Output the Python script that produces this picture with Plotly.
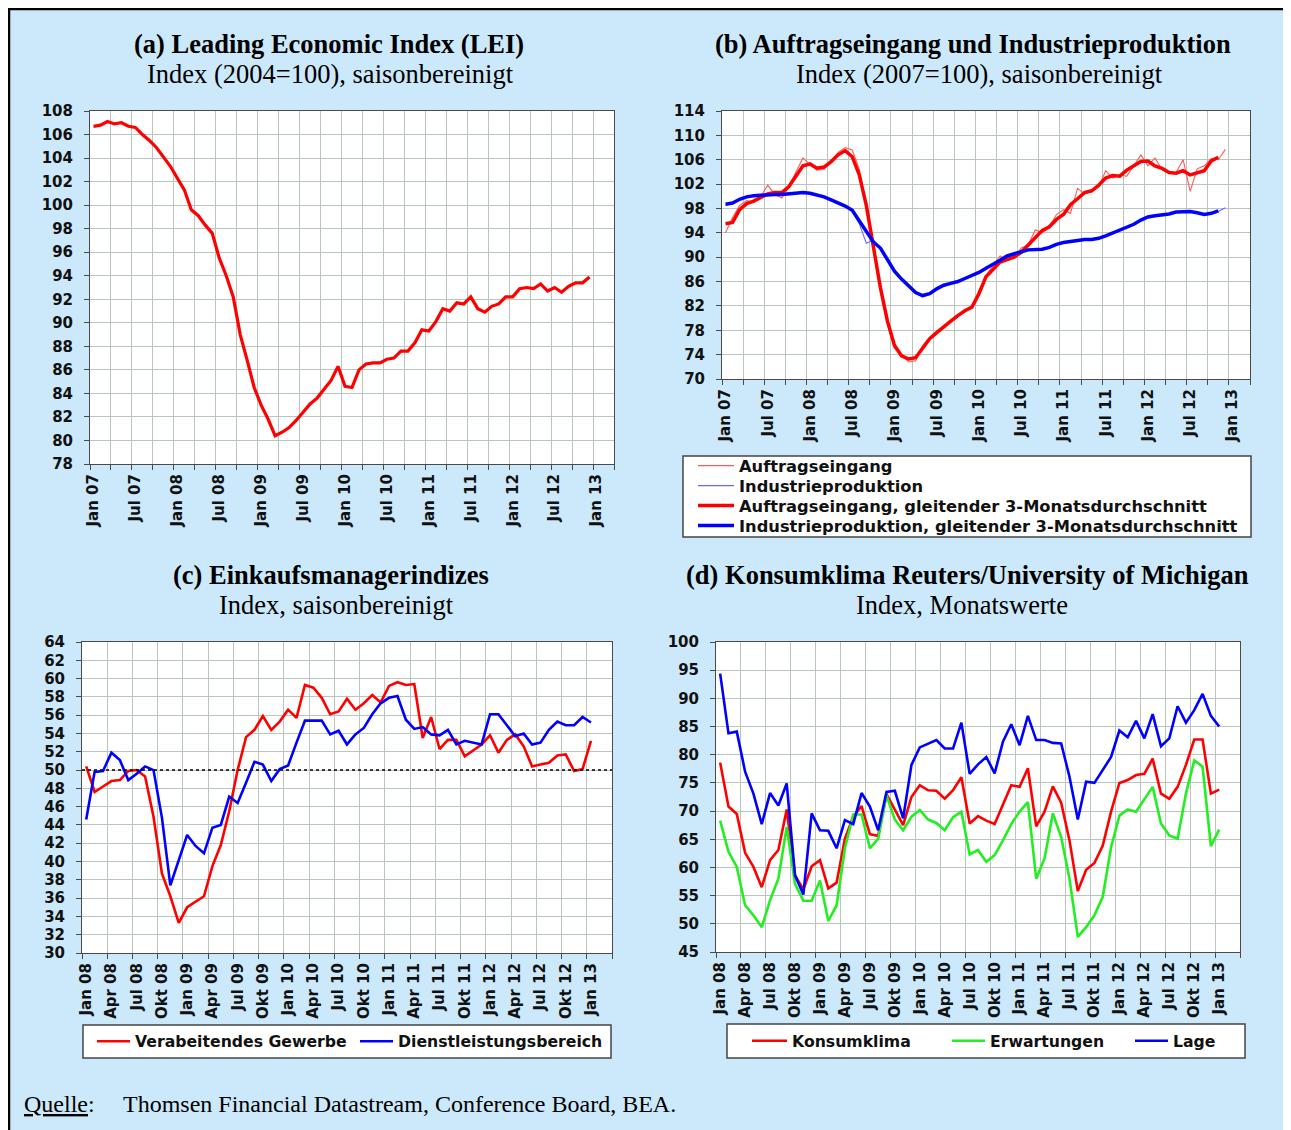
import plotly.graph_objects as go

W, H = 1291, 1130
OFF = 8          # the page body offsets the figure by 8 px
BG = "#cce9fb"
GRID = "#b9c5bd"
AX = "#4a4a4a"
SANS = "DejaVu Sans"
SERIF = "Liberation Serif"

# ---------------- data ----------------
# (a) LEI, monthly Jan 07 .. Dec 12
lei = [106.7, 106.8, 107.1, 106.9, 107.0, 106.7, 106.6, 106.0, 105.5, 104.9, 104.1, 103.3,
       102.3, 101.3, 99.6, 99.1, 98.3, 97.6, 95.5, 94.0, 92.2, 89.0, 86.8, 84.5,
       83.0, 81.8, 80.4, 80.7, 81.1, 81.7, 82.4, 83.1, 83.6, 84.3, 85.1, 86.3,
       84.6, 84.5, 86.0, 86.5, 86.6, 86.6, 86.9, 87.0, 87.6, 87.6, 88.3, 89.4,
       89.3, 90.1, 91.2, 91.0, 91.7, 91.6, 92.2, 91.2, 90.9, 91.4, 91.6, 92.2,
       92.2, 92.9, 93.0, 92.9, 93.3, 92.7, 93.0, 92.6, 93.1, 93.4, 93.4, 93.9]

# (b) Auftragseingang / Industrieproduktion, monthly Jan 07 .. Dec 12
orders_raw = [94.0, 96.5, 98.5, 99.3, 99.0, 100.0, 101.8, 100.3, 99.7, 101.5, 104.0, 106.3,
              105.2, 104.3, 104.4, 105.8, 107.2, 108.0, 107.6, 104.5, 98.0, 92.0, 85.0, 79.0,
              75.0, 74.0, 72.8, 73.0, 75.5, 76.8, 77.8, 78.7, 79.6, 80.5, 81.0, 82.0,
              84.5, 87.0, 88.6, 90.2, 89.5, 90.0, 91.5, 92.0, 94.5, 94.0, 95.0, 97.0,
              97.8, 97.2, 101.3, 100.4, 100.8, 101.5, 104.2, 103.0, 103.5, 103.3, 105.0, 106.8,
              105.0, 106.3, 104.4, 103.8, 103.9, 106.0, 100.8, 104.5, 105.0, 106.2, 106.0, 107.7]
orders_ma = [95.5, 95.7, 97.8, 98.8, 99.2, 99.8, 100.4, 100.6, 100.6, 101.6, 103.3, 105.0,
             105.3, 104.6, 104.8, 105.7, 106.8, 107.5, 106.5, 103.5, 98.5, 92.0, 85.0, 79.5,
             75.5, 73.8, 73.3, 73.5, 75.0, 76.6, 77.6, 78.6, 79.5, 80.4, 81.2, 81.8,
             84.0, 86.8, 88.0, 89.2, 89.6, 90.0, 90.8, 92.0, 93.4, 94.4, 95.0, 96.2,
             97.0, 98.6, 99.6, 100.6, 100.9, 101.8, 103.0, 103.4, 103.3, 104.3, 105.0, 105.7,
             105.8, 105.0, 104.6, 103.9, 103.8, 104.2, 103.5, 103.9, 104.2, 105.8, 106.4]
ip_raw = [98.5, 99.0, 99.4, 100.0, 100.0, 100.3, 100.2, 100.4, 100.2, 100.5, 100.4, 100.7,
          100.5, 100.2, 99.8, 99.4, 98.9, 98.5, 97.6, 95.5, 92.3, 92.8, 91.4, 89.4,
          87.6, 86.4, 85.2, 84.1, 83.5, 84.0, 84.9, 85.3, 85.8, 86.0, 86.4, 87.1,
          87.5, 88.3, 88.7, 89.6, 90.2, 90.6, 91.0, 91.1, 91.3, 91.4, 91.6, 92.0,
          92.5, 92.5, 92.9, 92.8, 93.0, 93.1, 93.6, 94.0, 94.4, 95.0, 95.4, 96.2,
          96.5, 96.9, 96.8, 97.2, 97.3, 97.6, 97.4, 97.3, 96.9, 97.1, 97.5, 98.1]
ip_ma = [98.7, 98.9, 99.5, 99.9, 100.1, 100.2, 100.2, 100.3, 100.3, 100.4, 100.5, 100.6,
         100.5, 100.2, 99.9, 99.4, 98.9, 98.4, 97.7, 96.0, 94.2, 92.5, 91.5, 89.6,
         87.7, 86.4, 85.3, 84.2, 83.7, 84.0, 84.8, 85.4, 85.7, 86.0, 86.5, 87.0,
         87.5, 88.2, 88.8, 89.5, 90.2, 90.6, 90.9, 91.2, 91.3, 91.3, 91.6, 92.1,
         92.4, 92.6, 92.8, 92.9, 92.9, 93.1, 93.5, 94.0, 94.5, 94.9, 95.4, 96.1,
         96.6, 96.8, 96.9, 97.1, 97.4, 97.5, 97.5, 97.3, 97.0, 97.2, 97.6]

# (c) Einkaufsmanagerindizes, monthly Jan 08 .. Jan 13
pmi_manu = [50.4, 47.6, 48.2, 48.8, 48.9, 49.9, 50.0, 49.3, 44.9, 38.7, 36.2, 33.3,
            35.0, 35.6, 36.2, 39.5, 41.8, 45.5, 50.0, 53.6, 54.4, 55.9, 54.4, 55.3,
            56.6, 55.7, 59.3, 59.0, 57.9, 56.1, 56.4, 57.8, 56.6, 57.3, 58.2, 57.4,
            59.2, 59.6, 59.3, 59.4, 53.5, 55.8, 52.3, 53.3, 53.3, 51.5, 52.2, 52.8,
            53.8, 51.9, 53.3, 53.9, 52.6, 50.4, 50.6, 50.8, 51.6, 51.7, 49.9, 50.1, 53.2]
pmi_serv = [44.6, 49.8, 49.9, 51.9, 51.1, 48.9, 49.6, 50.4, 50.0, 44.8, 37.4, 40.2,
            42.9, 41.7, 40.9, 43.7, 44.0, 47.1, 46.4, 48.6, 50.9, 50.6, 48.8, 50.1,
            50.5, 53.0, 55.4, 55.4, 55.4, 53.9, 54.3, 52.8, 53.9, 54.6, 56.1, 57.3,
            57.9, 58.1, 55.5, 54.5, 54.7, 53.9, 53.8, 54.4, 52.8, 53.2, 53.0, 52.8,
            56.1, 56.1, 54.9, 53.7, 54.0, 52.8, 53.0, 54.4, 55.3, 54.9, 54.9, 55.8, 55.2]
pmi_threshold = 50

# (d) Konsumklima Reuters/University of Michigan, monthly Jan 08 .. Jan 13
sent = [78.6, 70.8, 69.5, 62.6, 60.1, 56.5, 61.3, 63.1, 70.3, 58.6, 56.1, 60.2,
        61.3, 56.3, 57.3, 65.1, 69.0, 70.9, 65.9, 65.6, 73.0, 70.2, 67.5, 72.5,
        74.6, 73.7, 73.6, 72.2, 73.7, 76.0, 67.8, 69.1, 68.3, 67.7, 71.3, 74.6,
        74.3, 77.6, 67.3, 69.9, 74.4, 71.5, 64.8, 55.8, 59.6, 60.8, 63.9, 69.9,
        75.0, 75.5, 76.4, 76.6, 79.3, 73.1, 72.2, 74.3, 78.2, 82.7, 82.7, 73.1, 73.8]
expect = [68.3, 62.8, 60.1, 53.3, 51.5, 49.4, 54.2, 58.0, 67.2, 57.1, 54.1, 54.1,
          57.7, 50.5, 53.3, 63.4, 69.4, 69.4, 63.4, 65.1, 72.8, 68.5, 66.6, 69.0,
          70.2, 68.5, 67.9, 66.6, 68.9, 69.9, 62.3, 63.1, 61.0, 62.2, 64.8, 67.7,
          69.9, 71.6, 58.0, 61.6, 69.6, 65.4, 58.0, 47.7, 49.4, 51.5, 54.8, 63.6,
          69.2, 70.3, 69.9, 72.2, 74.3, 67.8, 65.7, 65.1, 73.1, 79.0, 77.9, 63.8, 66.7]
current = [94.4, 83.8, 84.1, 77.0, 73.1, 67.7, 73.2, 71.0, 74.9, 58.6, 55.2, 69.6,
           66.6, 66.5, 63.4, 68.4, 67.7, 73.2, 70.8, 66.6, 73.4, 73.6, 68.7, 78.2,
           81.3, 82.0, 82.6, 81.1, 81.1, 85.7, 76.6, 78.3, 79.6, 76.7, 82.3, 85.4,
           81.7, 86.9, 82.6, 82.6, 82.1, 82.0, 76.1, 68.5, 75.2, 75.0, 77.3, 79.6,
           84.3, 83.1, 86.0, 82.9, 87.2, 81.5, 82.9, 88.6, 85.7, 87.9, 90.8, 86.9, 85.0]

# tick labels
top_ticktext = ["Jan 07", "Jul 07", "Jan 08", "Jul 08", "Jan 09", "Jul 09", "Jan 10",
                "Jul 10", "Jan 11", "Jul 11", "Jan 12", "Jul 12", "Jan 13"]
top_tickvals = [0, 6, 12, 18, 24, 30, 36, 42, 48, 54, 60, 66, 72]
top_ncat = 75   # Jan 07 .. Mar 13
bot_ticktext = ["Jan 08", "Apr 08", "Jul 08", "Okt 08", "Jan 09", "Apr 09", "Jul 09", "Okt 09",
                "Jan 10", "Apr 10", "Jul 10", "Okt 10", "Jan 11", "Apr 11", "Jul 11", "Okt 11",
                "Jan 12", "Apr 12", "Jul 12", "Okt 12", "Jan 13"]
bot_tickvals = [0, 3, 6, 9, 12, 15, 18, 21, 24, 27, 30, 33, 36, 39, 42, 45, 48, 51, 54, 57, 60]
bot_ncat = 63   # Jan 08 .. Mar 13


def fx(px):
    return (px - OFF) / W


def fy(py):
    return 1 - (py - OFF) / H


fig = go.Figure()


def idx(vals):
    return list(range(len(vals)))


RED = "#ff0000"
BLUE = "#0000ff"
GREEN = "#22ee22"
RED_THIN = "#ff5a5a"
BLUE_THIN = "#6a6aff"

# (a)
fig.add_trace(go.Scatter(x=idx(lei), y=lei, mode="lines", line=dict(color=RED, width=3.2),
                         xaxis="x", yaxis="y", showlegend=False, hoverinfo="skip"))
# (b)  -- one single-entry legend per series so the rows can sit 20 px apart
fig.add_trace(go.Scatter(x=idx(orders_raw), y=orders_raw, mode="lines", name="Auftragseingang",
                         line=dict(color=RED_THIN, width=1.1), xaxis="x2", yaxis="y2",
                         legend="legend"))
fig.add_trace(go.Scatter(x=idx(ip_raw), y=ip_raw, mode="lines", name="Industrieproduktion",
                         line=dict(color=BLUE_THIN, width=1.1), xaxis="x2", yaxis="y2",
                         legend="legend4"))
fig.add_trace(go.Scatter(x=idx(orders_ma), y=orders_ma, mode="lines",
                         name="Auftragseingang, gleitender 3-Monatsdurchschnitt",
                         line=dict(color=RED, width=3.5), xaxis="x2", yaxis="y2", legend="legend5"))
fig.add_trace(go.Scatter(x=idx(ip_ma), y=ip_ma, mode="lines",
                         name="Industrieproduktion, gleitender 3-Monatsdurchschnitt",
                         line=dict(color=BLUE, width=3.5), xaxis="x2", yaxis="y2", legend="legend6"))
# (c)
fig.add_trace(go.Scatter(x=idx(pmi_manu), y=pmi_manu, mode="lines", name="Verabeitendes Gewerbe",
                         line=dict(color=RED, width=2.6), xaxis="x3", yaxis="y3", legend="legend2"))
fig.add_trace(go.Scatter(x=idx(pmi_serv), y=pmi_serv, mode="lines", name="Dienstleistungsbereich",
                         line=dict(color=BLUE, width=2.6), xaxis="x3", yaxis="y3", legend="legend2"))
# (d)
fig.add_trace(go.Scatter(x=idx(sent), y=sent, mode="lines", name="Konsumklima",
                         line=dict(color=RED, width=2.6), xaxis="x4", yaxis="y4", legend="legend3"))
fig.add_trace(go.Scatter(x=idx(expect), y=expect, mode="lines", name="Erwartungen",
                         line=dict(color=GREEN, width=2.6), xaxis="x4", yaxis="y4", legend="legend7"))
fig.add_trace(go.Scatter(x=idx(current), y=current, mode="lines", name="Lage",
                         line=dict(color=BLUE, width=2.6), xaxis="x4", yaxis="y4", legend="legend8"))

tickfont = dict(family=SANS, size=15, color="#111111", weight="bold")


def xcfg(x0, x1, anchor, ncat, tv, tt):
    return dict(domain=[fx(x0), fx(x1)], anchor=anchor, range=[-0.5, ncat - 0.5],
                tickmode="array", tickvals=tv, ticktext=tt, tickangle=-90, ticks="",
                ticklabelstandoff=3,
                showgrid=False, zeroline=False, showline=True, linecolor=AX, linewidth=1,
                mirror=True, tickfont=tickfont, fixedrange=True,
                minor=dict(tickmode="linear", tick0=-0.5, dtick=3, ticks="outside", ticklen=5,
                           tickcolor=AX, showgrid=True, gridcolor=GRID, gridwidth=1))


def ycfg(y0, y1, anchor, rng, dt):
    return dict(domain=[fy(y1), fy(y0)], anchor=anchor, range=rng, dtick=dt, tick0=rng[0],
                ticks="outside", ticklen=5, tickcolor=AX, showgrid=True, gridcolor=GRID,
                ticklabelstandoff=8,
                gridwidth=1, zeroline=False, showline=True, linecolor=AX, linewidth=1,
                mirror=True, tickfont=tickfont, fixedrange=True)


# plot-area pixel boxes (page coordinates)
A = (90, 614, 111, 464)
B = (722, 1250, 111, 379)
C = (82, 612, 642, 953)
D = (716, 1240, 642, 952)

legfont_b = dict(family=SANS, size=16.3, color="#111111", weight="bold")
legfont = dict(family=SANS, size=15.7, color="#111111", weight="bold")


def single_legend(xl, yc, font, iw):
    return dict(x=fx(xl), y=fy(yc), xanchor="left", yanchor="middle", orientation="v",
                bgcolor="rgba(0,0,0,0)", borderwidth=0, font=font, itemwidth=iw)


fig.update_layout(
    width=W, height=H, margin=dict(l=0, r=0, t=0, b=0, autoexpand=False),
    paper_bgcolor=BG, plot_bgcolor="white",
    xaxis=xcfg(A[0], A[1], "y", top_ncat, top_tickvals, top_ticktext),
    yaxis=ycfg(A[2], A[3], "x", [78, 108], 2),
    xaxis2=xcfg(B[0], B[1], "y2", top_ncat, top_tickvals, top_ticktext),
    yaxis2=ycfg(B[2], B[3], "x2", [70, 114], 4),
    xaxis3=xcfg(C[0], C[1], "y3", bot_ncat, bot_tickvals, bot_ticktext),
    yaxis3=ycfg(C[2], C[3], "x3", [30, 64], 2),
    xaxis4=xcfg(D[0], D[1], "y4", bot_ncat, bot_tickvals, bot_ticktext),
    yaxis4=ycfg(D[2], D[3], "x4", [45, 100], 5),
    legend=single_legend(693, 466, legfont_b, 36),
    legend4=single_legend(693, 486, legfont_b, 36),
    legend5=single_legend(693, 506, legfont_b, 36),
    legend6=single_legend(693, 526, legfont_b, 36),
    legend2=dict(x=fx(92), y=fy(1041.5), xanchor="left", yanchor="middle", orientation="h",
                 bgcolor="rgba(0,0,0,0)", borderwidth=0, entrywidth=215, entrywidthmode="pixels",
                 font=legfont, itemwidth=33),
    legend3=single_legend(747, 1041, legfont, 35),
    legend7=single_legend(947, 1041, legfont, 33),
    legend8=single_legend(1130, 1041, legfont, 33),
    showlegend=True,
)

shapes = []
# black frame along the top and left edge of the figure
shapes.append(dict(type="line", xref="paper", yref="paper", x0=0, x1=1, y0=1 - 1 / H, y1=1 - 1 / H,
                   line=dict(color="black", width=2.5), layer="above"))
shapes.append(dict(type="line", xref="paper", yref="paper", x0=1 / W, x1=1 / W, y0=0, y1=1,
                   line=dict(color="black", width=2.5), layer="above"))
# legend boxes
for (x0, x1, y0, y1) in [(683, 1251, 456, 537), (83, 611, 1025, 1058), (727, 1245, 1024, 1058)]:
    shapes.append(dict(type="rect", xref="paper", yref="paper", x0=fx(x0), x1=fx(x1),
                       y0=fy(y1), y1=fy(y0), fillcolor="white",
                       line=dict(color="#444444", width=1.5), layer="below"))
# 50 threshold line in (c)
shapes.append(dict(type="line", xref="x3 domain", yref="y3", x0=0, x1=1, y0=pmi_threshold,
                   y1=pmi_threshold, line=dict(color="black", width=1.6, dash="dot"), layer="above"))
fig.update_layout(shapes=shapes)

ann = []


def title(xc, yc, text, bold, size):
    ann.append(dict(xref="paper", yref="paper", x=fx(xc), y=fy(yc), xanchor="center",
                    yanchor="middle", showarrow=False, text=text,
                    font=dict(family=SERIF, size=size, color="black",
                              weight="bold" if bold else "normal")))


title(329, 44, "(a) Leading Economic Index (LEI)", True, 26.5)
title(330, 74, "Index (2004=100), saisonbereinigt", False, 26.5)
title(973, 44, "(b) Auftragseingang und Industrieproduktion", True, 26.5)
title(979, 74, "Index (2007=100), saisonbereinigt", False, 26.5)
title(331, 575, "(c) Einkaufsmanagerindizes", True, 26.5)
title(337, 605, "Index, saisonbereinigt", False, 26.5)
title(967, 575, "(d) Konsumklima Reuters/University of Michigan", True, 26.5)
title(962, 605, "Index, Monatswerte", False, 26.5)

ann.append(dict(xref="paper", yref="paper", x=fx(22), y=fy(1104), xanchor="left", yanchor="middle",
                showarrow=False, text="<u>Quelle</u>:",
                font=dict(family=SERIF, size=24, color="black")))
ann.append(dict(xref="paper", yref="paper", x=fx(121), y=fy(1104), xanchor="left", yanchor="middle",
                showarrow=False, text="Thomsen Financial Datastream, Conference Board, BEA.",
                font=dict(family=SERIF, size=24, color="black")))
fig.update_layout(annotations=ann)

fig.write_html("out.html")
